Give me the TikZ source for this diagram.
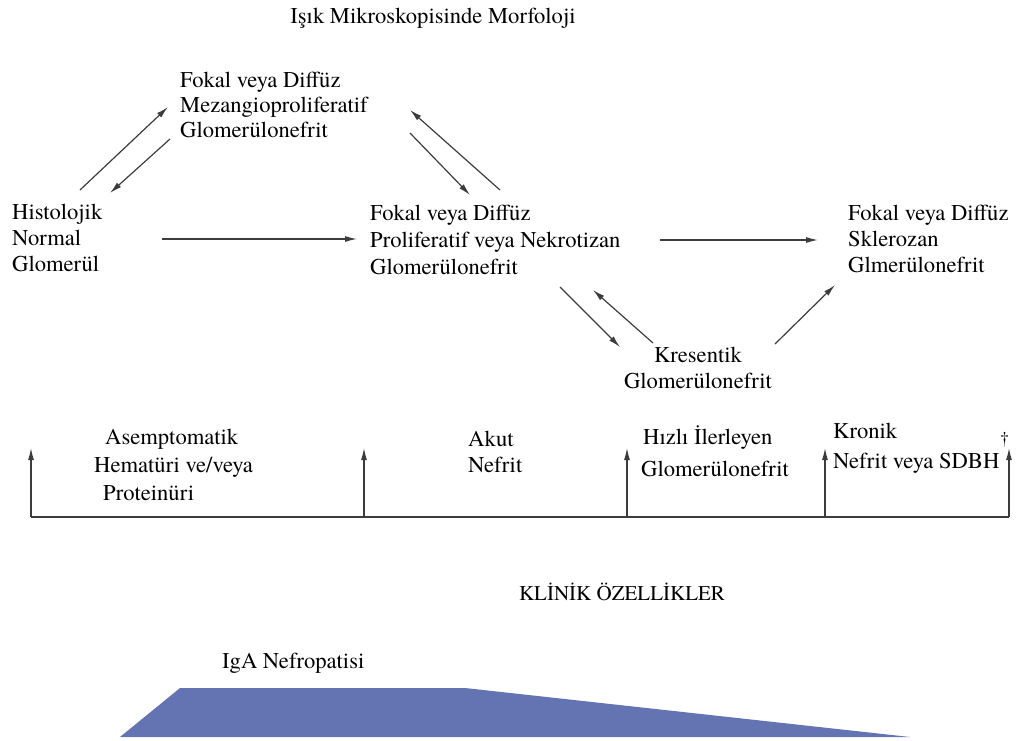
\documentclass[tikz,border=0pt]{standalone}
\usepackage{fontspec}
\newfontfamily\libserif{texgyretermes-regular.otf}
\usetikzlibrary{arrows.meta}
\definecolor{trapblue}{RGB}{100,116,178}
\definecolor{arrgray}{RGB}{60,60,60}
\begin{document}
\begin{tikzpicture}[x=1pt,y=-1pt,
  every node/.style={inner sep=0pt},
  txt/.style={font=\libserif\fontsize{22.6}{#1}\selectfont, align=left, anchor=west},
  txt/.default=26,
  arr/.style={draw=arrgray, line width=1.2pt, -{Latex[length=12pt,width=6pt]}},
  axis/.style={draw=arrgray, line width=1.2pt}]
\useasboundingbox (0,0) rectangle (1021,740);

% title
\node[font=\libserif\fontsize{22.6}{26}\selectfont] (title) at (433,18) {Işık Mikroskopisinde Morfoloji};

% morphology nodes
\node[txt=25] (mez) at (180,105) {Fokal veya Diffüz\\Mezangioproliferatif\\Glomerülonefrit};
\node[txt=26] (hist) at (12,238) {Histolojik\\Normal\\Glomerül};
\node[txt=27] (prol) at (370,240) {Fokal veya Diffüz\\Proliferatif veya Nekrotizan\\Glomerülonefrit};
\node[txt=26] (skl) at (848,239) {Fokal veya Diffüz\\Sklerozan\\Glmerülonefrit};
\node[font=\libserif\fontsize{22.6}{26}\selectfont, align=center] (kres) at (698,368) {Kresentik\\Glomerülonefrit};

% arrow end points
\coordinate (hm1) at (80,190);   \coordinate (hm2) at (168,107);
\coordinate (mh1) at (170,139);  \coordinate (mh2) at (110,193);
\coordinate (pm1) at (500,190);  \coordinate (pm2) at (410,110);
\coordinate (mp1) at (410,133);  \coordinate (mp2) at (470,195);
\coordinate (hp1) at (162,239);  \coordinate (hp2) at (357,239);
\coordinate (ps1) at (660,240);  \coordinate (ps2) at (818,240);
\coordinate (pk1) at (560,287);  \coordinate (pk2) at (620,347);
\coordinate (kp1) at (653,343);  \coordinate (kp2) at (593,290);
\coordinate (ks1) at (775,344);  \coordinate (ks2) at (835,285);

\draw[arr] (hm1) -- (hm2);
\draw[arr] (mh1) -- (mh2);
\draw[arr] (pm1) -- (pm2);
\draw[arr] (mp1) -- (mp2);
\draw[arr] (hp1) -- (hp2);
\draw[arr] (ps1) -- (ps2);
\draw[arr] (pk1) -- (pk2);
\draw[arr] (kp1) -- (kp2);
\draw[arr] (ks1) -- (ks2);

% clinical timeline
\coordinate (t0) at (31,517);   \coordinate (u0) at (31,448);
\coordinate (t1) at (364,517);  \coordinate (u1) at (364,448);
\coordinate (t2) at (627,517);  \coordinate (u2) at (627,448);
\coordinate (t3) at (825,517);  \coordinate (u3) at (825,448);
\coordinate (t4) at (1009,517); \coordinate (u4) at (1009,448);
\draw[axis] (t0) -- (t4);
\draw[arr] (t0) -- (u0);
\draw[arr] (t1) -- (u1);
\draw[arr] (t2) -- (u2);
\draw[arr] (t3) -- (u3);
\draw[arr] (t4) -- (u4);

\node[txt=28] (asem) at (94,465) {\hspace*{11pt}Asemptomatik\\Hematüri ve/veya\\\hspace*{9pt}Proteinüri};
\node[txt=26] (akut) at (468,452) {Akut\\Nefrit};
\node[txt=32] (hizli) at (641,451) {\hspace*{2pt}Hızlı İlerleyen\\Glomerülonefrit};
\node[txt=30] (kron) at (833,448) {Kronik\\Nefrit veya SDBH};
\node[font=\libserif\fontsize{18}{18}\selectfont] (dag) at (1004.5,440) {†};

\node[font=\libserif\fontsize{21}{24}\selectfont] (klinik) at (622,592) {KLİNİK ÖZELLİKLER};

% IgA
\node[font=\libserif\fontsize{22.6}{26}\selectfont, anchor=west] (iga) at (222,663) {IgA Nefropatisi};
\coordinate (p1) at (120,737); \coordinate (p2) at (180,688);
\coordinate (p3) at (465,688); \coordinate (p4) at (910,737);
\fill[trapblue] (p1) -- (p2) -- (p3) -- (p4) -- cycle;
\end{tikzpicture}
\end{document}
